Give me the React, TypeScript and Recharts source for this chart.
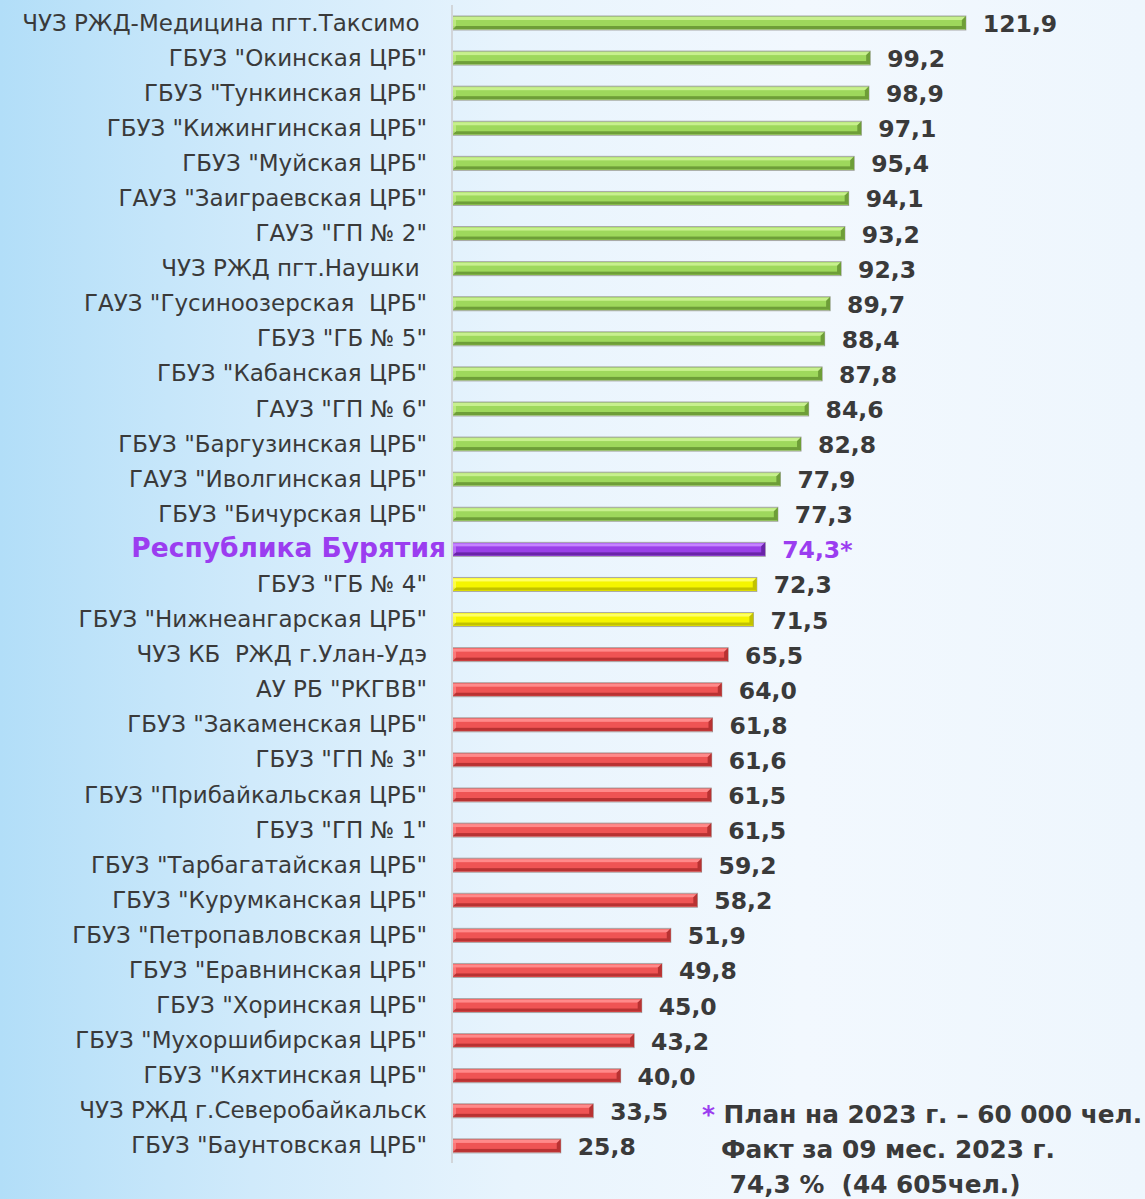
import React from 'react';
import { BarChart, Bar, XAxis, YAxis, Cell, LabelList } from 'recharts';

// названия учреждений (сверху вниз)
const names: string[] = [
  'ЧУЗ РЖД-Медицина пгт.Таксимо ',
  'ГБУЗ "Окинская ЦРБ"',
  'ГБУЗ "Тункинская ЦРБ"',
  'ГБУЗ "Кижингинская ЦРБ"',
  'ГБУЗ "Муйская ЦРБ"',
  'ГАУЗ "Заиграевская ЦРБ"',
  'ГАУЗ "ГП № 2"',
  'ЧУЗ РЖД пгт.Наушки ',
  'ГАУЗ "Гусиноозерская  ЦРБ"',
  'ГБУЗ "ГБ № 5"',
  'ГБУЗ "Кабанская ЦРБ"',
  'ГАУЗ "ГП № 6"',
  'ГБУЗ "Баргузинская ЦРБ"',
  'ГАУЗ "Иволгинская ЦРБ"',
  'ГБУЗ "Бичурская ЦРБ"',
  'Республика Бурятия',
  'ГБУЗ "ГБ № 4"',
  'ГБУЗ "Нижнеангарская ЦРБ"',
  'ЧУЗ КБ  РЖД г.Улан-Удэ',
  'АУ РБ "РКГВВ"',
  'ГБУЗ "Закаменская ЦРБ"',
  'ГБУЗ "ГП № 3"',
  'ГБУЗ "Прибайкальская ЦРБ"',
  'ГБУЗ "ГП № 1"',
  'ГБУЗ "Тарбагатайская ЦРБ"',
  'ГБУЗ "Курумканская ЦРБ"',
  'ГБУЗ "Петропавловская ЦРБ"',
  'ГБУЗ "Еравнинская ЦРБ"',
  'ГБУЗ "Хоринская ЦРБ"',
  'ГБУЗ "Мухоршибирская ЦРБ"',
  'ГБУЗ "Кяхтинская ЦРБ"',
  'ЧУЗ РЖД г.Северобайкальск',
  'ГБУЗ "Баунтовская ЦРБ"',
];

// % выполнения плана
const values: number[] = [
  121.9, 99.2, 98.9, 97.1, 95.4, 94.1, 93.2, 92.3, 89.7, 88.4, 87.8, 84.6, 82.8, 77.9, 77.3,
  74.3, 72.3, 71.5, 65.5, 64.0, 61.8, 61.6, 61.5, 61.5, 59.2, 58.2, 51.9, 49.8, 45.0, 43.2,
  40.0, 33.5, 25.8,
];

const REGION = 'Республика Бурятия';
const footnote: string[] = ['План на 2023 г. – 60 000 чел.', 'Факт за 09 мес. 2023 г.', ' 74,3 %  (44 605чел.)'];

const data = names.map((name, i) => ({ name, value: values[i] }));
const regionValue = values[names.indexOf(REGION)];

const FONT = '"DejaVu Sans", Verdana, sans-serif';
const PURPLE = '#9b3df0';
const TEXT = '#3a3a3a';

type Palette = { mid: string; light: string; dark: string };
const palettes: Record<string, Palette> = {
  green: { mid: '#9ed85c', light: '#c8f08e', dark: '#6e9e38' },
  yellow: { mid: '#f5f500', light: '#ffff66', dark: '#c2c200' },
  red: { mid: '#ef5454', light: '#ff8a8a', dark: '#b83232' },
  purple: { mid: '#9a40e8', light: '#c584ff', dark: '#6a24a8' },
};

const groupOf = (name: string, v: number) => {
  if (name === REGION) return 'purple';
  if (v > regionValue) return 'green';
  if (v >= 70) return 'yellow';
  return 'red';
};

const fmt = (v: number) => v.toFixed(1).replace('.', ',');

// бар с "объёмной" фаской
const BevelBar = (props: any) => {
  const { x, y, width, height, payload } = props;
  const p = palettes[groupOf(payload.name, payload.value)];
  if (!width || width <= 0) return null;
  const b = 4;
  return (
    <g>
      <rect x={x} y={y} width={width} height={height} fill={p.mid} stroke="#a8a8a8" strokeWidth={1} />
      <rect x={x + 1} y={y + 1} width={width - 2} height={3} fill={p.light} />
      <rect x={x + 1} y={y + height - 4} width={width - 2} height={3} fill={p.dark} />
      <polygon points={`${x + width},${y} ${x + width - b},${y + b} ${x + width - b},${y + height - b} ${x + width},${y + height}`} fill={p.dark} />
      <polygon points={`${x},${y} ${x + b},${y + b} ${x + b},${y + height - b} ${x},${y + height}`} fill={p.light} opacity={0.7} />
    </g>
  );
};

const CategoryTick = (props: any) => {
  const { x, y, payload } = props;
  const isRegion = payload.value === REGION;
  return (
    <text
      x={isRegion ? x + 19 : x}
      y={y}
      dy={8}
      textAnchor="end"
      fontFamily={FONT}
      fontSize={isRegion ? 26.5 : 23}
      fontWeight={isRegion ? 'bold' : 'normal'}
      fill={isRegion ? PURPLE : TEXT}
      style={{ whiteSpace: 'pre' }}
    >
      {payload.value}
    </text>
  );
};

const ValueLabel = (props: any) => {
  const { x, y, width, height, value, index } = props;
  const isRegion = names[index] === REGION;
  return (
    <text
      x={x + width + 17}
      y={y + height / 2}
      dy={9}
      fontFamily={FONT}
      fontSize={23.5}
      fontWeight="bold"
      fill={isRegion ? PURPLE : TEXT}
    >
      {fmt(value) + (isRegion ? '*' : '')}
    </text>
  );
};

export default function App() {
  return (
    <div
      style={{
        position: 'absolute',
        left: 0,
        top: 0,
        width: 1145,
        height: 1199,
        overflow: 'hidden',
        background: 'linear-gradient(90deg, #b2def8 0%, #d0eafb 22%, #e8f4fd 45%, #f2f8fe 70%, #eef6fd 100%)',
      }}
    >
      <BarChart
        width={1145}
        height={1199}
        layout="vertical"
        data={data}
        margin={{ top: 5, right: 145, bottom: 36, left: 0 }}
        barSize={14}
      >
        <XAxis type="number" domain={[0, 130]} hide />
        <YAxis
          type="category"
          dataKey="name"
          width={452}
          interval={0}
          tickLine={false}
          tickSize={0}
          tickMargin={25}
          axisLine={{ stroke: '#d2d6da', strokeWidth: 2 }}
          tick={<CategoryTick />}
        />
        <Bar dataKey="value" shape={<BevelBar />} isAnimationActive={false}>
          {data.map((d) => (
            <Cell key={d.name} fill={palettes[groupOf(d.name, d.value)].mid} />
          ))}
          <LabelList dataKey="value" content={<ValueLabel />} />
        </Bar>
      </BarChart>
      <div
        style={{
          position: 'absolute',
          left: 702,
          top: 1097,
          fontFamily: FONT,
          fontWeight: 'bold',
          fontSize: 24.8,
          color: TEXT,
          lineHeight: '35px',
          whiteSpace: 'pre',
        }}
      >
        <div>
          <span style={{ color: PURPLE }}>*</span>{' ' + footnote[0]}
        </div>
        <div style={{ paddingLeft: 19 }}>{footnote[1]}</div>
        <div style={{ paddingLeft: 19 }}>{footnote[2]}</div>
      </div>
    </div>
  );
}
